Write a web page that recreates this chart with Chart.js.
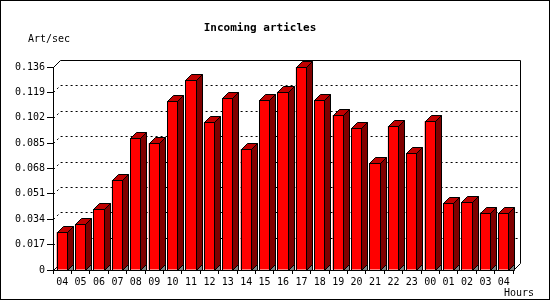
<!DOCTYPE html>
<html><head><meta charset="utf-8">
<script src="https://cdn.jsdelivr.net/npm/chart.js@4"></script>
<style>html,body{margin:0;padding:0;background:#fff}#wrap{width:550px;height:300px}</style>
</head><body><div id="wrap"><canvas id="c" width="550" height="300"></canvas></div>
<script>
const hours = ['04','05','06','07','08','09','10','11','12','13','14','15','16','17','18','19','20','21','22','23','00','01','02','03','04'];
const artPerSec = [0.0253,0.0308,0.0407,0.0601,0.0882,0.0849,0.1130,0.1271,0.0990,0.1150,0.0809,0.1137,0.1195,0.1358,0.1137,0.1036,0.0949,0.0715,0.0963,0.0782,0.0996,0.0447,0.0454,0.0380,0.0380];
const yTickValues = [0,0.017,0.034,0.051,0.068,0.085,0.102,0.119,0.136];
const yTickLabels = ['0','0.017','0.034','0.051','0.068','0.085','0.102','0.119','0.136'];
const chartTitle = 'Incoming articles';
const yAxisLabel = 'Art/sec';
const xAxisLabel = 'Hours';

const FONT = "'DejaVu Sans Mono', 'Liberation Mono', monospace";
const D = 7;   // wall depth
const BD = 6;  // bar depth

const threeD = {
  id: 'threeD',
  beforeDraw(chart) {
    const ctx = chart.ctx;
    ctx.save();
    ctx.fillStyle = '#fff';
    ctx.fillRect(0, 0, chart.width, chart.height);
    ctx.strokeStyle = '#000';
    ctx.lineWidth = 1;
    ctx.strokeRect(0.5, 0.5, chart.width - 1, chart.height - 1);
    ctx.restore();
  },
  beforeDatasetsDraw(chart) {
    const ctx = chart.ctx, a = chart.chartArea, y = chart.scales.y;
    const L = Math.round(a.left) + 0.5, R = Math.round(a.right) + 0.5;
    const B = Math.round(a.bottom) + 0.5;
    ctx.save();
    ctx.strokeStyle = '#000';
    ctx.lineWidth = 1;
    // dotted gridlines on the back wall
    ctx.setLineDash([2, 3]);
    yTickValues.forEach(v => {
      if (v === 0 || v === yTickValues[yTickValues.length - 1]) return;
      const py = Math.round(y.getPixelForValue(v)) + 0.5;
      ctx.beginPath();
      ctx.moveTo(L, py);
      ctx.lineTo(L + D, py - D);
      ctx.lineTo(R + D, py - D);
      ctx.stroke();
    });
    ctx.setLineDash([]);
    // back frame
    const T = Math.round(y.getPixelForValue(yTickValues[yTickValues.length - 1])) + 0.5;
    ctx.beginPath();
    ctx.moveTo(L, T);
    ctx.lineTo(L + D, T - D);
    ctx.lineTo(R + D, T - D);
    ctx.lineTo(R + D, B - D);
    ctx.lineTo(R, B);
    ctx.stroke();
    ctx.beginPath();
    ctx.moveTo(L, B);
    ctx.lineTo(L + D, B - D);
    ctx.stroke();
    ctx.restore();
  },
  afterDatasetsDraw(chart) {
    const ctx = chart.ctx, meta = chart.getDatasetMeta(0);
    ctx.save();
    ctx.strokeStyle = '#000';
    ctx.lineWidth = 1;
    ctx.lineJoin = 'miter';
    meta.data.forEach(bar => {
      const p = bar.getProps(['x', 'y', 'base', 'width'], true);
      const xl = Math.round(p.x - p.width / 2) + 0.5;
      const xr = Math.round(p.x + p.width / 2) - 0.5;
      const top = Math.round(p.y) + 0.5;
      const base = Math.round(p.base) + 0.5;
      // grey floor triangle
      ctx.fillStyle = '#808080';
      ctx.beginPath();
      ctx.moveTo(xr, base); ctx.lineTo(xr + BD, base - BD); ctx.lineTo(xr + BD, base); ctx.closePath();
      ctx.fill(); ctx.stroke();
      // side face
      ctx.fillStyle = '#800000';
      ctx.beginPath();
      ctx.moveTo(xr, top); ctx.lineTo(xr + BD, top - BD); ctx.lineTo(xr + BD, base - BD); ctx.lineTo(xr, base); ctx.closePath();
      ctx.fill(); ctx.stroke();
      // top face
      ctx.fillStyle = '#c00000';
      ctx.beginPath();
      ctx.moveTo(xl, top); ctx.lineTo(xl + BD, top - BD); ctx.lineTo(xr + BD, top - BD); ctx.lineTo(xr, top); ctx.closePath();
      ctx.fill(); ctx.stroke();
      // front outline
      ctx.strokeRect(xl, top, xr - xl, base - top);
    });
    ctx.restore();
  },
  afterDraw(chart) {
    const ctx = chart.ctx;
    ctx.save();
    ctx.fillStyle = '#000';
    ctx.textBaseline = 'alphabetic';
    ctx.font = 'bold 11px ' + FONT;
    ctx.textAlign = 'center';
    ctx.fillText(chartTitle, 260, 31);
    ctx.font = '10px ' + FONT;
    ctx.textAlign = 'left';
    ctx.fillText(yAxisLabel, 28, 42);
    ctx.textAlign = 'right';
    ctx.fillText(xAxisLabel, 534, 296);
    ctx.restore();
  }
};

new Chart(document.getElementById('c'), {
  type: 'bar',
  data: {
    labels: hours,
    datasets: [{
      data: artPerSec,
      backgroundColor: '#ff0000',
      borderWidth: 0,
      categoryPercentage: 1.0,
      barPercentage: 0.6
    }]
  },
  options: {
    responsive: false,
    animation: false,
    events: [],
    layout: { padding: { left: 0, right: 37, top: 67, bottom: 0 } },
    plugins: { legend: { display: false }, tooltip: { enabled: false }, title: { display: false } },
    scales: {
      x: {
        offset: true,
        grid: { display: true, drawOnChartArea: false, drawTicks: true, tickLength: 4, color: '#000', offset: true },
        border: { display: true, color: '#000', width: 1 },
        ticks: { color: '#000', font: { family: FONT, size: 10 }, padding: 2, maxRotation: 0, autoSkip: false },
        afterFit: s => { s.height = 30; }
      },
      y: {
        min: 0, max: 0.136,
        afterBuildTicks: s => { s.ticks = yTickValues.map(v => ({ value: v })); },
        grid: { display: true, drawOnChartArea: false, drawTicks: true, tickLength: 6, color: '#000' },
        border: { display: true, color: '#000', width: 1 },
        ticks: { color: '#000', font: { family: FONT, size: 10 }, padding: 2, callback: (v, i) => yTickLabels[i] },
        afterFit: s => { s.width = 53; }
      }
    }
  },
  plugins: [threeD]
});
</script>
</body></html>
